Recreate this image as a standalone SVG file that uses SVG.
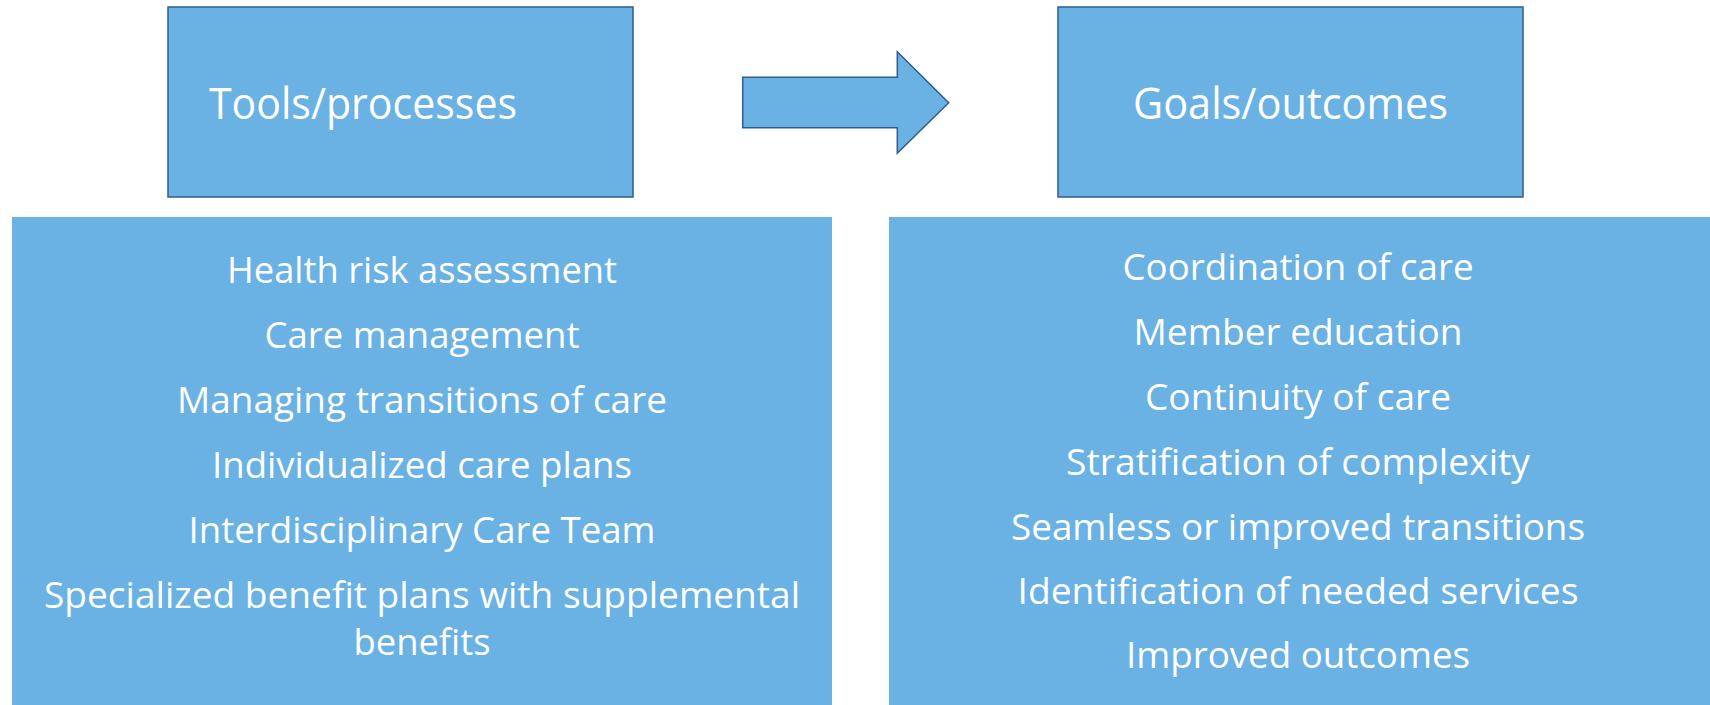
<svg xmlns="http://www.w3.org/2000/svg" width="1710" height="705" viewBox="0 0 1710 705">
<style>
.box{fill:#6AB1E4;stroke:#2E5E8E;stroke-width:1.5}
.band{fill:#6AB1E4}
.t{font-family:"Open Sans","Noto Sans","Liberation Sans",sans-serif;fill:#FFFFFF}
.h{font-size:43px}
.l{font-size:36px;text-anchor:middle}
</style>
<rect width="1710" height="705" fill="#FFFFFF"/>
<g id="tools-box">
<rect class="box" x="168" y="7" width="465" height="190"/>
<text class="t h" x="209" y="119" textLength="308" lengthAdjust="spacingAndGlyphs">Tools/processes</text>
</g>
<g id="goals-box">
<rect class="box" x="1058" y="7" width="465" height="190"/>
<text class="t h" x="1133" y="119" textLength="315" lengthAdjust="spacingAndGlyphs">Goals/outcomes</text>
</g>
<g id="connectors">
<polygon class="box" points="742.7,77.3 897.3,77.3 897.3,51.7 948.7,102.7 897.3,153.3 897.3,127.7 742.7,127.7"/>
</g>
<g id="tools-list">
<rect class="band" x="12" y="217" width="820" height="488"/>
<text class="t l" x="422" y="283" textLength="390" lengthAdjust="spacingAndGlyphs">Health risk assessment</text>
<text class="t l" x="422" y="348" textLength="315" lengthAdjust="spacingAndGlyphs">Care management</text>
<text class="t l" x="422" y="413" textLength="490" lengthAdjust="spacingAndGlyphs">Managing transitions of care</text>
<text class="t l" x="422" y="478" textLength="420" lengthAdjust="spacingAndGlyphs">Individualized care plans</text>
<text class="t l" x="422" y="543" textLength="467" lengthAdjust="spacingAndGlyphs">Interdisciplinary Care Team</text>
<text class="t l" x="422" y="608" textLength="756" lengthAdjust="spacingAndGlyphs">Specialized benefit plans with supplemental</text>
<text class="t l" x="422" y="655" textLength="137" lengthAdjust="spacingAndGlyphs">benefits</text>
</g>
<g id="goals-list">
<rect class="band" x="889" y="217" width="821" height="488"/>
<text class="t l" x="1298" y="280" textLength="351" lengthAdjust="spacingAndGlyphs">Coordination of care</text>
<text class="t l" x="1298" y="345" textLength="329" lengthAdjust="spacingAndGlyphs">Member education</text>
<text class="t l" x="1298" y="410" textLength="306" lengthAdjust="spacingAndGlyphs">Continuity of care</text>
<text class="t l" x="1298" y="475" textLength="464" lengthAdjust="spacingAndGlyphs">Stratification of complexity</text>
<text class="t l" x="1298" y="540" textLength="574" lengthAdjust="spacingAndGlyphs">Seamless or improved transitions</text>
<text class="t l" x="1298" y="604" textLength="561" lengthAdjust="spacingAndGlyphs">Identification of needed services</text>
<text class="t l" x="1298" y="668" textLength="344" lengthAdjust="spacingAndGlyphs">Improved outcomes</text>
</g>
</svg>
